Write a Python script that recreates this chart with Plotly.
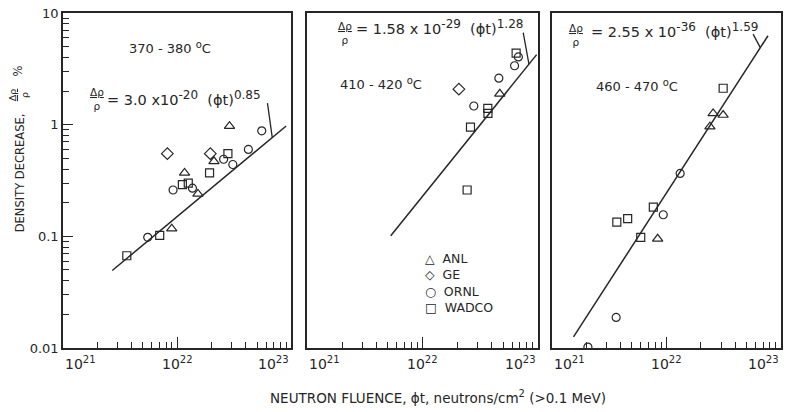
import numpy as np
import plotly.graph_objects as go

# Temperature band of each panel
bands = ["370 - 380 °C", "410 - 420 °C", "460 - 470 °C"]

# Fluence (n/cm^2, E > 0.1 MeV) and density decrease (%) by laboratory, one list per panel
anl_x = [[2.87e22, 2.10e22, 1.16e22, 1.52e22, 8.96e21],
         [4.69e22],
         [2.56e22, 3.13e22, 2.40e22, 8.40e21]]
anl_y = [[0.97, 0.47, 0.37, 0.24, 0.117],
         [1.89],
         [1.26, 1.22, 0.96, 0.095]]

ge_x = [[8.2e21, 1.95e22],
        [2.07e22],
        []]
ge_y = [[0.55, 0.55],
        [2.08],
        []]

ornl_x = [[5.5e22, 4.2e22, 2.55e22, 3.07e22, 9.2e21, 1.36e22, 5.52e21],
          [2.79e22, 4.60e22, 6.30e22, 6.80e22],
          [1.32e22, 9.4e21, 3.65e21, 2.07e21]]
ornl_y = [[0.88, 0.60, 0.49, 0.44, 0.26, 0.27, 0.098],
          [1.47, 2.61, 3.37, 4.04],
          [0.366, 0.156, 0.0188, 0.0102]]

wadco_x = [[1.92e22, 2.78e22, 1.11e22, 1.25e22, 7.03e21, 3.62e21],
           [3.69e22, 3.70e22, 6.50e22, 2.61e22, 2.44e22],
           [3.13e22, 7.7e21, 3.7e21, 4.6e21, 5.98e21]]
wadco_y = [[0.37, 0.55, 0.29, 0.30, 0.102, 0.067],
           [1.40, 1.26, 4.38, 0.95, 0.26],
           [2.12, 0.183, 0.134, 0.144, 0.098]]

labs = ["ANL", "GE", "ORNL", "WADCO"]
lab_glyph = ["△", "◇", "○", "□"]
lab_x = [anl_x, ge_x, ornl_x, wadco_x]
lab_y = [anl_y, ge_y, ornl_y, wadco_y]
lab_symbol = ["triangle-up-open", "diamond-open", "circle-open", "square-open"]
lab_size = [9, 9, 8, 8]

# Fitted law  dp/p = A * (phi t)^n,  A = mantissa x 10^power
fit_mantissa = ["3.0", "1.58", "2.55"]
fit_power10 = [-20, -29, -36]
fit_exponent = [0.85, 1.28, 1.59]
fit_times = [" x", " x ", " x "]
fit_x_from = [2.7e21, 5.3e21, 1.55e21]
fit_x_to = [9.0e22, 9.8e22, 7.7e22]
leader_x = [6.8e22, 8.4e22, 6.6e22]

x_major = [1e21, 1e22, 1e23]
x_minor = [m * 10.0 ** d for d in (21, 22) for m in range(2, 10)]
y_major = [0.01, 0.1, 1, 10]
y_major_text = ["0.01", "0.1", "1", "10"]
y_minor = [m * 10.0 ** d for d in (-2, -1, 0) for m in range(2, 10)]

INK = "#262626"
FONT = "DejaVu Sans"

domains = [[0.0, 0.3181], [0.3403, 0.6611], [0.6806, 1.0]]


def fit_value(i, x):
    coef = float(fit_mantissa[i]) * 10.0 ** fit_power10[i]
    return coef * np.asarray(x, dtype=float) ** fit_exponent[i]


def refs(i):
    s = "" if i == 0 else str(i + 1)
    return "x" + s, "y" + s


def sup(t, px=11):
    return f"<sup><span style='font-size:{px}px'>{t}</span></sup>"


fig = go.Figure()

for i in range(3):
    xa, ya = refs(i)
    # fitted line
    fx = np.array([fit_x_from[i], fit_x_to[i]])
    fig.add_trace(go.Scatter(
        x=fx, y=fit_value(i, fx), mode="lines",
        line=dict(color=INK, width=1.5), showlegend=False,
        hoverinfo="skip", xaxis=xa, yaxis=ya))
    # measurements
    for k, lab in enumerate(labs):
        if not lab_x[k][i]:
            continue
        fig.add_trace(go.Scatter(
            x=lab_x[k][i], y=lab_y[k][i], mode="markers", name=lab,
            showlegend=False,
            marker=dict(symbol=lab_symbol[k], size=lab_size[k], color=INK,
                        line=dict(color=INK, width=1.2)),
            xaxis=xa, yaxis=ya))

layout_axes = {}
for i in range(3):
    xa, ya = refs(i)
    xkey = "xaxis" + xa[1:]
    ykey = "yaxis" + ya[1:]
    layout_axes[xkey] = dict(
        type="log", range=[21, 23], domain=domains[i], anchor=ya,
        showline=True, mirror=True, linecolor=INK, linewidth=1.5,
        showgrid=False, zeroline=False,
        tickmode="array", tickvals=x_major, ticks="inside", ticklen=11,
        tickwidth=1.3, tickcolor=INK, showticklabels=False,
        minor=dict(tickmode="array", tickvals=x_minor, ticks="inside",
                   ticklen=6, tickwidth=1.3, tickcolor=INK, showgrid=False))
    yax = dict(
        type="log", range=[-2, 1], anchor=xa,
        showline=True, mirror=True, linecolor=INK, linewidth=1.5,
        showgrid=False, zeroline=False)
    if i == 0:
        yax.update(
            tickmode="array", tickvals=y_major, ticktext=y_major_text,
            ticks="inside", ticklen=10, tickwidth=1.3, tickcolor=INK,
            tickfont=dict(family=FONT, size=13, color=INK),
            minor=dict(tickmode="array", tickvals=y_minor, ticks="inside",
                       ticklen=6, tickwidth=1.3, tickcolor=INK, showgrid=False))
    else:
        yax.update(showticklabels=False, ticks="")
    layout_axes[ykey] = yax

annotations = []
txt_font = dict(family=FONT, size=13, color=INK)

# decade labels under each panel
for i in range(3):
    xa, ya = refs(i)
    for pos, anchor, p in ((0, "left", 21), (0.5, "center", 22), (1, "right", 23)):
        annotations.append(dict(
            text=f"10{sup(p, 10)}", xref=xa + " domain", yref=ya + " domain",
            x=pos, y=0, xanchor=anchor, yanchor="top", yshift=-4,
            showarrow=False, font=dict(family=FONT, size=14, color=INK)))

# band labels, formula labels and leaders
band_pos = [(0.467, 0.896), (0.32, 0.791), (0.374, 0.785)]
frac_pos = [(0.148, 0.743), (0.165, 0.940), (0.104, 0.934)]
form_pos = [(0.183, 0.745), (0.203, 0.958), (0.161, 0.949)]
leader_off = [(-5, -36), (-6, -33), (-8, -15)]
for i in range(3):
    xa, ya = refs(i)
    annotations.append(dict(
        text=bands[i].replace("°C", sup("o", 10) + "C"),
        xref=xa + " domain", yref=ya + " domain",
        x=band_pos[i][0], y=band_pos[i][1], xanchor="center", yanchor="middle",
        showarrow=False, font=txt_font))
    annotations.append(dict(
        text="<u>Δρ</u><br>ρ", xref=xa + " domain", yref=ya + " domain",
        x=frac_pos[i][0], y=frac_pos[i][1], xanchor="center", yanchor="middle",
        showarrow=False, font=dict(family=FONT, size=10.5, color=INK)))
    formula = (f"= {fit_mantissa[i]}{fit_times[i]}10{sup(fit_power10[i], 12)}"
               f"  (ϕt){sup(f'{fit_exponent[i]:.2f}', 12)}")
    annotations.append(dict(
        text=formula, xref=xa + " domain", yref=ya + " domain",
        x=form_pos[i][0], y=form_pos[i][1],
        xanchor="left", yanchor="middle", showarrow=False,
        font=dict(family=FONT, size=14.5, color=INK)))
    lx = leader_x[i]
    annotations.append(dict(
        text="", xref=xa, yref=ya, x=float(np.log10(lx)),
        y=float(np.log10(fit_value(i, lx))),
        showarrow=True, arrowhead=0, arrowwidth=1.3, arrowcolor=INK,
        ax=leader_off[i][0], ay=leader_off[i][1]))

# legend block inside the middle panel
legend_text = "<br>".join(f"{g}  {lab}" for g, lab in zip(lab_glyph, labs))
annotations.append(dict(
    text=legend_text, xref="x2 domain", yref="y2 domain", x=0.50, y=0.295,
    xanchor="left", yanchor="top", align="left", showarrow=False,
    font=dict(family=FONT, size=12.5, color=INK)))

# axis titles
annotations.append(dict(
    text="NEUTRON FLUENCE, ϕt, neutrons/cm" + sup(2, 10) + " (>0.1 MeV)",
    xref="paper", yref="paper", x=0.522, y=-0.146, xanchor="center",
    yanchor="middle", showarrow=False,
    font=dict(family=FONT, size=13.5, color=INK)))
annotations.append(dict(
    text="DENSITY DECREASE,", textangle=-90, xref="paper", yref="paper",
    x=-0.0597, y=0.522, xanchor="center", yanchor="middle", showarrow=False,
    font=dict(family=FONT, size=11.5, color=INK)))
annotations.append(dict(
    text="<u>Δρ</u><br>ρ", textangle=-90, xref="paper", yref="paper",
    x=-0.0625, y=0.755, xanchor="center", yanchor="middle", showarrow=False,
    font=dict(family=FONT, size=9.5, color=INK)))
annotations.append(dict(
    text="%", textangle=-90, xref="paper", yref="paper",
    x=-0.0625, y=0.826, xanchor="center", yanchor="middle", showarrow=False,
    font=dict(family=FONT, size=11.5, color=INK)))

fig.update_layout(
    width=788, height=412,
    margin=dict(l=63, r=5, t=13, b=64),
    paper_bgcolor="white", plot_bgcolor="white",
    font=dict(family=FONT, color=INK),
    showlegend=False,
    annotations=annotations,
    **layout_axes)

fig.write_html("out.html")
